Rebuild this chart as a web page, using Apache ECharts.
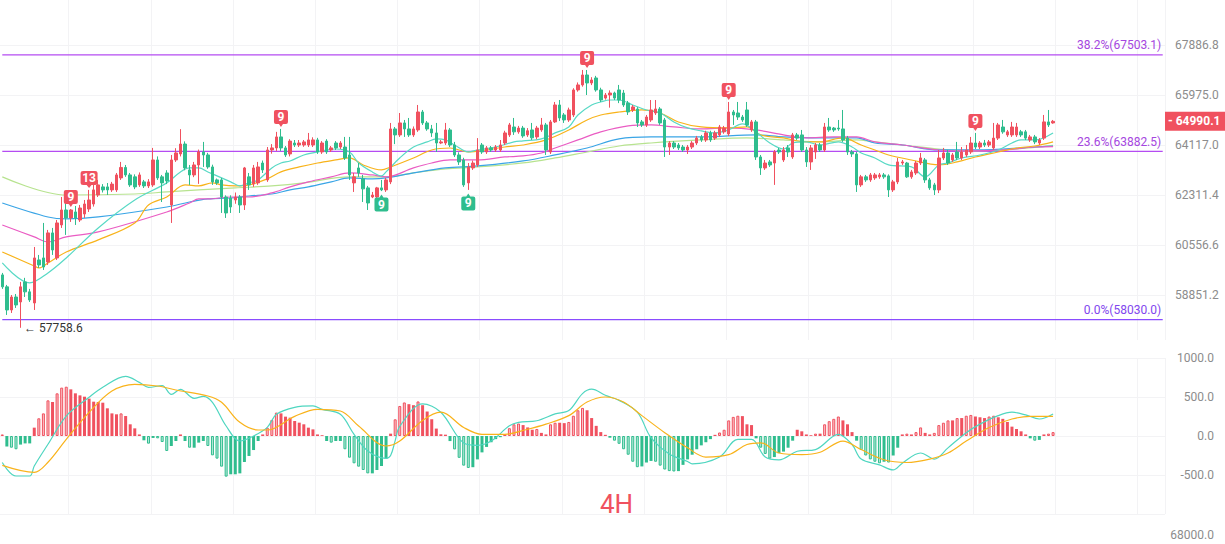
<!DOCTYPE html>
<html>
<head>
<meta charset="utf-8">
<title>4H</title>
<script src="https://cdn.jsdelivr.net/npm/echarts@6/dist/echarts.min.js"></script>
<style>
  html, body { margin: 0; padding: 0; background: #fff; }
  #chart { width: 1225px; height: 544px; }
</style>
</head>
<body>
<div id="chart"></div>
<script>
// 4H candles
const openPrices = [
  59530, 59125, 58350, 58784, 58617, 59293, 58956, 58584, 60041, 60110,
  59972, 60976, 60110, 61254, 61780, 61500, 61710, 61429, 61640, 61815,
  61992, 62311, 62600, 62600, 62493, 62493, 62923, 63300, 63030, 62960,
  62672, 62780, 62636, 62672, 63571, 62960, 63100, 61957, 63571, 63790,
  64153, 63210, 63030, 63390, 63862, 63753, 63318, 62851, 62851, 62240,
  62200, 62134, 62240, 61957, 62960, 62708, 62744, 63460, 62851, 63935,
  64010, 64413, 64010, 63790, 64190, 64117, 64117, 64117, 64117, 64303,
  63862, 64260, 63935, 64190, 64043, 64043, 63753, 62744, 63282, 62887,
  62565, 62240, 62240, 62565, 62493, 62780, 64708, 64487, 64930, 64708,
  64487, 64671, 65338, 64930, 64708, 64560, 64190, 64190, 64671, 64117,
  63753, 63571, 62744, 63282, 63390, 64117, 63862, 64010, 63935, 63935,
  64190, 64487, 64780, 64600, 64740, 64487, 64671, 64413, 64671, 64856,
  63862, 64968, 65600, 65227, 65041, 65227, 66166, 66355, 66734, 66430,
  66620, 66166, 65860, 65975, 66050, 66166, 66050, 65670, 65413, 65450,
  64968, 64856, 65041, 65300, 65450, 65041, 64043, 64190, 64117, 64043,
  63935, 64043, 64190, 64413, 64303, 64560, 64370, 64487, 64600, 64523,
  65338, 65300, 65150, 65413, 64671, 64968, 63680, 63282, 63500, 63460,
  63935, 63571, 64010, 63680, 64487, 64487, 63935, 63500, 63862, 64117,
  63935, 64780, 64740, 64740, 64708, 64370, 63862, 63790, 62672, 62960,
  62851, 62923, 62960, 63030, 62995, 62493, 62780, 63460, 63460, 62960,
  63100, 63460, 63571, 62851, 62672, 62493, 63644, 63826, 63571, 63862,
  63644, 63753, 63862, 64190, 64043, 64190, 64117, 64010, 64370, 64780,
  64487, 64487, 64487, 64600, 64600, 64303, 64413, 64190, 64370, 64968,
  64930
];
const closePrices = [
  59125, 58350, 58784, 58517, 59125, 58956, 58684, 60110, 59870, 59800,
  60976, 60384, 61324, 61780, 61500, 61780, 61500, 61850, 61992, 62134,
  62493, 62672, 62493, 62493, 62700, 63030, 63300, 63030, 62672, 62600,
  63030, 62636, 62780, 63571, 62923, 62744, 62815, 63571, 63826, 64153,
  63282, 63030, 63390, 63862, 63753, 63318, 62780, 62744, 62240, 61675,
  61886, 62240, 61957, 63282, 62672, 63282, 63318, 63210, 63935, 64010,
  64413, 64010, 63753, 64260, 64117, 64190, 64230, 64303, 64303, 63862,
  64190, 63862, 64010, 64010, 64190, 63644, 63030, 62960, 63102, 62530,
  62028, 62311, 62565, 62493, 62851, 64708, 64487, 64930, 64708, 64487,
  64708, 65338, 64930, 64708, 64560, 64190, 64230, 64671, 64117, 63753,
  63500, 62672, 63318, 63460, 63935, 63862, 64010, 63935, 64043, 64117,
  64560, 64856, 64600, 64740, 64450, 64640, 64380, 64740, 64856, 63935,
  64968, 65600, 65115, 65041, 65413, 66166, 66355, 66734, 66430, 66544,
  66166, 65787, 65975, 66050, 65860, 65787, 65600, 65338, 65527, 64930,
  64856, 65150, 65413, 65450, 64930, 64043, 64190, 64043, 64010, 63935,
  64043, 64190, 64370, 64303, 64560, 64303, 64560, 64780, 64740, 65338,
  65227, 65150, 65041, 64856, 64968, 63680, 63282, 63460, 63390, 63862,
  63862, 63935, 63862, 64487, 64370, 63935, 63500, 64010, 64117, 63935,
  64780, 64671, 64671, 64708, 64303, 63862, 63790, 62672, 62960, 62851,
  63030, 63030, 63030, 62960, 62493, 62780, 63500, 63500, 62960, 63137,
  63460, 63644, 62851, 62565, 62493, 63644, 63826, 63460, 63753, 63644,
  63862, 63935, 64190, 64043, 64190, 64117, 64230, 64370, 64856, 64600,
  64600, 64780, 64780, 64487, 64370, 64413, 64230, 64303, 64968, 64856,
  64990.1
];
const highPrices = [
  59598, 59191, 58851, 58885, 59293, 59430, 59057, 60488, 60213, 61324,
  61080, 61150, 61429, 62240, 62028, 61815, 61922, 61957, 62134, 62493,
  62672, 62851, 62700, 62740, 62780, 63100, 63500, 63390, 63100, 63050,
  63120, 62850, 62880, 64010, 63700, 63030, 63200, 63753, 64000, 64700,
  64250, 63390, 63500, 63950, 64230, 63830, 63400, 62900, 62923, 62300,
  62300, 62400, 62311, 63318, 63100, 63390, 63500, 63550, 64043, 64150,
  64600, 64708, 64080, 64330, 64300, 64300, 64300, 64560, 64400, 64380,
  64260, 64330, 64080, 64260, 64260, 64413, 64413, 63100, 63460, 63030,
  62636, 62420, 62600, 62851, 62923, 64930, 64780, 65300, 65041, 65115,
  64800, 65600, 65413, 65000, 64856, 64930, 64300, 64930, 64740, 64230,
  63850, 63650, 63460, 63550, 64370, 64190, 64080, 64080, 64117, 64300,
  64640, 64930, 65115, 64820, 64820, 64740, 64930, 64820, 65115, 64930,
  65041, 65713, 65787, 65300, 65500, 66230, 66450, 66925, 66925, 66650,
  66700, 66250, 66050, 66150, 66100, 66355, 66166, 65750, 65600, 65520,
  65041, 65227, 65787, 65787, 65520, 65115, 64260, 64260, 64190, 64117,
  64117, 64260, 64450, 64487, 64640, 64640, 64640, 64856, 64820, 65713,
  65413, 65713, 65227, 65713, 65041, 65041, 63753, 63571, 63571, 63935,
  64010, 64043, 64117, 64560, 64560, 64671, 64043, 64117, 64190, 64190,
  64930, 65115, 64780, 65041, 65413, 64450, 63935, 63862, 63030, 63030,
  63100, 63100, 63100, 63100, 63050, 62851, 63644, 63571, 63500, 63210,
  63535, 63826, 63644, 62923, 62744, 63935, 64010, 63935, 63826, 64230,
  64043, 64117, 64413, 64560, 64260, 64303, 64300, 64930, 64930, 65041,
  64671, 64968, 64930, 64671, 64671, 64487, 64487, 64370, 65227, 65413,
  65041
];
const lowPrices = [
  59057, 58184, 58250, 58417, 57758.6, 58784, 58617, 58350, 59768, 59700,
  59870, 60213, 60041, 61150, 60906, 61360, 61254, 61360, 61500, 61710,
  61900, 62240, 62400, 62311, 62420, 62420, 62850, 62960, 62600, 62520,
  62600, 62560, 62560, 62600, 62850, 62062, 62700, 61324, 63500, 63700,
  63200, 62672, 62950, 62708, 63318, 63250, 62672, 62672, 61675, 61500,
  61675, 62000, 61675, 61780, 62493, 62600, 62672, 63100, 62780, 63800,
  63900, 63900, 63680, 63700, 64043, 64043, 64050, 64043, 64043, 63790,
  63790, 63790, 63862, 63935, 63970, 63571, 62851, 62420, 62960, 62063,
  61780, 62200, 62200, 62450, 62420, 62700, 64150, 64413, 64413, 64413,
  64413, 64600, 64856, 64640, 64413, 63862, 64150, 64117, 64043, 63680,
  63390, 62600, 62493, 63210, 63318, 63790, 63790, 63862, 63862, 63862,
  64117, 64413, 64487, 64530, 64380, 64413, 64300, 64330, 64600, 63753,
  63790, 64930, 65000, 64930, 64968, 65150, 66100, 66290, 65975, 66350,
  66100, 65713, 65800, 65500, 65787, 65670, 65527, 65227, 65338, 64780,
  64780, 64780, 64968, 65227, 64856, 63680, 63753, 63970, 63935, 63862,
  63790, 63970, 64117, 64230, 64230, 64230, 64300, 64413, 64530, 64450,
  64856, 65041, 64968, 64780, 64600, 63571, 63030, 63210, 63318, 62672,
  63790, 63500, 63680, 63610, 64303, 63862, 63318, 63210, 63610, 63862,
  63862, 64600, 64600, 64640, 64230, 63753, 63680, 62420, 62600, 62780,
  62780, 62851, 62890, 62890, 62240, 62420, 62700, 63390, 62923, 62890,
  63030, 63390, 62744, 62493, 62311, 62380, 63571, 63390, 63500, 63571,
  63571, 63680, 63790, 63970, 63970, 64043, 64043, 63935, 64300, 64530,
  64413, 64413, 64413, 64413, 64300, 64230, 64150, 64117, 64303, 64780,
  64900
];

// moving averages, sampled along the lines: [candle index, price]
const maTeal = [[0,59938],[6,59259],[10,59598],[14,60110],[21,61150],[29,62134],[36,62744],[39,63138],[41,63282],[43,63282],[45,63138],[48,62923],[50,62780],[52,62636],[54,62744],[56,62851],[59,63282],[61,63462],[63,63535],[66,63753],[70,63899],[73,63971],[76,63862],[78,63462],[81,63138],[83,62995],[84,63138],[87,63644],[90,64043],[93,64230],[95,64340],[97,64303],[99,64117],[102,63862],[104,63935],[108,64043],[112,64230],[114,64266],[118,64340],[121,64561],[124,64782],[126,65227],[129,65600],[131,65713],[133,65787],[135,65787],[138,65600],[141,65413],[144,65301],[147,64967],[150,64745],[153,64634],[156,64561],[159,64671],[162,64893],[165,64598],[168,64191],[171,63971],[173,64191],[176,64230],[179,64117],[183,64230],[186,64043],[188,63826],[191,63644],[194,63390],[199,63318],[202,62959],[205,63390],[207,63462],[210,63644],[214,63753],[218,63935],[221,64191],[223,64303],[226,64303],[230,64561]];
const maOrange = [[0,60316],[7,59836],[8,59768],[10,59938],[14,60316],[21,60733],[29,61324],[32,61957],[36,62240],[40,62672],[43,62636],[46,62744],[48,62672],[51,62636],[54,62672],[58,62887],[61,63138],[65,63318],[69,63462],[73,63571],[76,63644],[79,63390],[83,63210],[85,63318],[90,63644],[94,63935],[98,64007],[102,63862],[106,63935],[110,64043],[114,64117],[119,64303],[124,64671],[128,65041],[131,65227],[135,65338],[140,65413],[144,65301],[148,64967],[153,64782],[159,64745],[163,64782],[166,64487],[171,64377],[176,64230],[179,64230],[184,64377],[188,64117],[191,63935],[194,63753],[199,63571],[205,63390],[209,63499],[213,63680],[218,63862],[222,64007],[226,64080],[230,64230]];
const maPink = [[0,61254],[7,60837],[10,60664],[14,60837],[21,61010],[36,61710],[41,62028],[43,62170],[45,62170],[50,62240],[54,62240],[59,62384],[63,62600],[67,62780],[72,62959],[76,63102],[81,63030],[84,62959],[90,63282],[94,63462],[98,63571],[104,63571],[110,63680],[114,63717],[118,63826],[121,64007],[126,64303],[131,64598],[137,64819],[142,64856],[147,64782],[153,64708],[159,64745],[165,64671],[171,64487],[176,64377],[182,64413],[187,64413],[191,64230],[197,64117],[205,63935],[212,63899],[219,63935],[226,64043],[230,64060]];
const maBlue = [[0,62028],[10,61534],[14,61464],[21,61534],[36,61886],[41,62063],[45,62170],[50,62205],[54,62276],[59,62347],[63,62493],[67,62600],[72,62780],[76,62923],[81,62887],[84,62923],[90,63102],[97,63282],[104,63354],[114,63535],[121,63753],[128,64007],[135,64340],[142,64413],[153,64413],[165,64487],[171,64413],[179,64377],[187,64377],[191,64191],[197,64117],[205,63935],[212,63935],[219,63971],[226,64043],[230,64080]];
const maLime = [[0,62959],[14,62311],[29,62347],[36,62420],[43,62493],[51,62565],[59,62636],[66,62744],[76,62959],[84,62959],[90,63102],[97,63246],[104,63318],[114,63462],[121,63644],[128,63862],[135,64080],[142,64191],[153,64303],[163,64377],[171,64303],[179,64230],[187,64303],[191,64230],[197,64117],[205,63971],[212,63899],[219,63935],[226,64030],[230,64100]];

// MACD
const macdHist = [
  20, -136, -150, -170, -110, -95, -95, 107, 227, 290,
  457, 436, 547, 620, 632, 598, 547, 521, 504, 479,
  440, 436, 427, 355, 290, 278, 290, 256, 150, 98,
  20, -55, -98, -25, -30, -77, -192, -128, -64, 20,
  -64, -150, -150, -85, -64, -128, -248, -290, -393, -521,
  -491, -491, -479, -333, -256, -180, -64, 20, 107, 205,
  300, 290, 248, 235, 192, 171, 150, 107, 85, 20,
  10, -64, -85, -64, -64, -170, -278, -350, -393, -436,
  -479, -479, -436, -385, -290, 30, 214, 385, 430, 408,
  395, 443, 395, 314, 215, 95, 22, 17, -65, -172,
  -280, -380, -410, -400, -300, -210, -140, -80, -40, -15,
  20, 100, 150, 160, 140, 110, 80, 90, 40, 20,
  150, 170, 170, 165, 180, 260, 330, 360, 330, 230,
  130, 50, 15, -22, -60, -100, -170, -240, -330, -400,
  -390, -340, -320, -330, -380, -430, -450, -455, -450, -370,
  -300, -240, -170, -120, -80, -40, 15, 45, 80, 200,
  245, 260, 255, 150, 140, -30, -150, -230, -290, -270,
  -220, -200, -150, -60, 80, 60, 20, 10, 30, 30,
  150, 190, 220, 250, 200, 150, 50, -60, -180, -250,
  -300, -330, -350, -330, -340, -250, -150, 20, 30, 20,
  50, 110, 40, 20, 40, 140, 170, 200, 200, 230,
  230, 260, 270, 250, 240, 230, 250, 260, 240, 220,
  180, 120, 90, 60, 20, -30, -60, -50, 20, 30,
  50
];
const macdDif = [[0,-340],[3,-513],[6,-513],[7,-385],[10,-106],[14,256],[19,496],[22,624],[27,765],[30,688],[32,624],[35,645],[37,534],[39,598],[42,483],[44,509],[46,432],[49,128],[52,-64],[55,0],[58,111],[60,278],[64,367],[68,385],[70,342],[74,278],[77,21],[80,-192],[84,-286],[85,-250],[86,-60],[87,124],[92,413],[96,305],[101,-90],[104,-120],[107,-65],[111,130],[113,174],[117,196],[121,283],[124,326],[127,544],[129,600],[132,522],[135,457],[139,305],[142,-22],[146,-230],[150,-326],[151,-357],[157,-270],[161,-43],[164,-43],[167,-270],[170,-305],[174,-196],[178,-174],[183,22],[186,-109],[188,-296],[192,-370],[195,-435],[197,-348],[201,-218],[204,-296],[207,-152],[211,43],[214,152],[218,261],[221,305],[224,270],[227,218],[230,283]];
const macdDea = [[0,-376],[7,-466],[10,-337],[14,-43],[19,303],[24,577],[29,663],[34,641],[38,590],[45,513],[48,432],[52,175],[56,77],[58,77],[64,252],[69,342],[74,321],[78,128],[84,-128],[87,-64],[92,200],[96,305],[101,109],[105,22],[110,22],[115,87],[119,152],[124,261],[128,435],[132,500],[136,435],[140,261],[145,43],[150,-152],[154,-270],[159,-239],[163,-109],[166,-87],[170,-218],[175,-239],[179,-209],[184,-65],[188,-174],[193,-305],[198,-340],[203,-296],[207,-218],[211,-65],[216,109],[221,218],[225,252],[230,252]];

// axis ticks and levels
const priceTicks = [58851.2, 60556.6, 62311.4, 64117.0, 65975.0, 67886.8];
const fibLevels = [67503.1, 63882.5, 58030.0];
const fibNames = ['38.2%', '23.6%', '0.0%'];
const lastPrice = 64990.1;
const lowIndex = 4;

// TD sequential counts
const tdSellIdx = [15, 19, 61, 128, 159, 213];
const tdSellText = ['9', '13', '9', '9', '9', '9'];
const tdBuyIdx = [83, 102];
const tdBuyText = ['9', '9'];

const SLOTS = 255; // room on the right after the last candle
const slots = [];
for (let i = 0; i < SLOTS; i++) slots.push(String(i));
const lastSlot = slots[SLOTS - 1];

const UP = '#f0515f';
const DOWN = '#2fbd8e';
const FIB_COLORS = ['#b54cf2', '#b54cf2', '#8a4cff'];
const FIB_TEXT = ['#a546e0', '#a546e0', '#8146ee'];
const GRID_LINE = '#f3f3f5';
const AXIS_TEXT = '#8c8c8c';

const candles = openPrices.map((o, i) => [o, closePrices[i], lowPrices[i], highPrices[i]]);

const PIN_DOWN = 'path://M2,0H12Q14,0,14,2V12Q14,14,12,14H9L7,17L5,14H2Q0,14,0,12V2Q0,0,2,0Z';
const PIN_UP = 'path://M5,3L7,0L9,3H12Q14,3,14,5V15Q14,17,12,17H2Q0,17,0,15V5Q0,3,2,3Z';

const tdPoints = [];
tdSellIdx.forEach((idx, k) => {
  tdPoints.push({
    coord: [slots[idx], highPrices[idx]],
    symbol: PIN_DOWN,
    symbolSize: [tdSellText[k].length > 1 ? 17 : 14, 17],
    symbolOffset: [0, -10.5],
    itemStyle: { color: UP },
    label: { show: true, position: 'inside', formatter: tdSellText[k], color: '#fff', fontSize: 12, fontWeight: 'bold', offset: [0, -1.5] }
  });
});
tdBuyIdx.forEach((idx, k) => {
  tdPoints.push({
    coord: [slots[idx], lowPrices[idx]],
    symbol: PIN_UP,
    symbolSize: [14, 17],
    symbolOffset: [0, 12],
    itemStyle: { color: DOWN },
    label: { show: true, position: 'inside', formatter: tdBuyText[k], color: '#fff', fontSize: 12, fontWeight: 'bold', offset: [0, 1.5] }
  });
});

// fib level captions sit above the right end of each level line
const fibCaptions = fibLevels.map((v, k) => ({
  coord: [lastSlot, v],
  symbol: 'circle', symbolSize: 1, itemStyle: { color: 'rgba(0,0,0,0)' },
  label: { show: true, position: 'left', distance: 1, offset: [0, -9.5],
    formatter: fibNames[k] + '(' + v.toFixed(1) + ')', color: FIB_TEXT[k], fontSize: 12 }
}));

// histogram: bars growing in size are drawn light with an outline
const histData = macdHist.map((v, i) => {
  const prev = i > 0 ? macdHist[i - 1] : 0;
  const growing = Math.abs(v) > Math.abs(prev) && (v >= 0) === (prev >= 0);
  const base = v >= 0 ? UP : DOWN;
  return {
    value: v,
    itemStyle: growing
      ? { color: v >= 0 ? 'rgba(240,81,95,0.35)' : 'rgba(47,189,142,0.35)', borderColor: base, borderWidth: 1 }
      : { color: base }
  };
});

function maSeries(name, data, color) {
  return {
    name, type: 'line', xAxisIndex: 0, yAxisIndex: 0, data,
    smooth: 0.35, showSymbol: false, silent: true,
    lineStyle: { color, width: 1.2 }, itemStyle: { color }, z: 3
  };
}

// one flat line per fibonacci level, across the whole panel
const fibSeries = fibLevels.map((v, k) => ({
  name: 'fib ' + fibNames[k], type: 'line', xAxisIndex: 0, yAxisIndex: 0,
  data: [[slots[0], v], [lastSlot, v]],
  showSymbol: false, silent: true, z: 2,
  lineStyle: { color: FIB_COLORS[k], width: 1.2 }, itemStyle: { color: FIB_COLORS[k] }
}));

const vSplit = {
  show: true,
  interval: (idx) => idx % 18 === 15,
  lineStyle: { color: GRID_LINE, width: 1 }
};

const chart = echarts.init(document.getElementById('chart'), null, { renderer: 'svg' });

chart.setOption({
  animation: false,
  backgroundColor: '#fff',
  textStyle: { fontFamily: 'Roboto, "Noto Sans", sans-serif' },
  grid: [
    { left: 0, right: 60, top: 0, height: 340 },
    { left: 0, right: 60, top: 358, height: 156 }
  ],
  xAxis: [
    { type: 'category', gridIndex: 0, data: slots, boundaryGap: true,
      axisLine: { show: false }, axisTick: { show: false }, axisLabel: { show: false }, splitLine: vSplit },
    { type: 'category', gridIndex: 1, data: slots, boundaryGap: true,
      axisLine: { show: false }, axisTick: { show: false }, axisLabel: { show: false }, splitLine: vSplit }
  ],
  yAxis: [
    { type: 'log', logBase: 10, gridIndex: 0, position: 'right', min: 57357, max: 69655,
      axisLine: { show: false },
      axisTick: { show: false, customValues: priceTicks },
      axisLabel: { customValues: priceTicks, formatter: (v) => Number(v).toFixed(1),
        color: AXIS_TEXT, fontSize: 12, margin: 10, align: 'left' },
      splitLine: { show: true, lineStyle: { color: GRID_LINE } } },
    { type: 'value', gridIndex: 1, position: 'right', min: -1000, max: 1000, interval: 500,
      axisLine: { show: false }, axisTick: { show: false },
      axisLabel: { formatter: (v) => Number(v).toFixed(1), showMinLabel: false,
        color: AXIS_TEXT, fontSize: 12, margin: 49, align: 'right' },
      splitLine: { show: true, lineStyle: { color: GRID_LINE } } }
  ],
  series: fibSeries.concat([
    {
      name: 'K', type: 'candlestick', xAxisIndex: 0, yAxisIndex: 0, data: candles,
      barWidth: 3, z: 4,
      itemStyle: { color: UP, color0: DOWN, borderColor: UP, borderColor0: DOWN, borderWidth: 1 },
      markLine: {
        silent: true, symbol: ['none', 'none'], animation: false,
        data: [{
          yAxis: lastPrice,
          lineStyle: { color: 'rgba(255,255,255,0)', width: 0 },
          label: { show: true, position: 'end', formatter: '- ' + lastPrice.toFixed(1), distance: 0,
            backgroundColor: UP, color: '#fff', fontSize: 12, fontWeight: 'bold', padding: [4, 5, 3, 3] }
        }]
      },
      markPoint: {
        silent: true, animation: false,
        data: [{
          coord: [slots[lowIndex], lowPrices[lowIndex]],
          symbol: 'circle', symbolSize: 1, itemStyle: { color: 'rgba(0,0,0,0)' },
          label: { show: true, position: 'right', distance: 3, formatter: '\u2190 ' + lowPrices[lowIndex].toFixed(1),
            color: '#333', fontSize: 12 }
        }].concat(tdPoints, fibCaptions)
      }
    },
    maSeries('MA-lime', maLime, '#b7e38f'),
    maSeries('MA-blue', maBlue, '#3aa5e6'),
    maSeries('MA-pink', maPink, '#ea5cc3'),
    maSeries('MA-orange', maOrange, '#f8b31a'),
    maSeries('MA-teal', maTeal, '#58d9c5'),
    {
      name: 'MACD', type: 'bar', xAxisIndex: 1, yAxisIndex: 1, data: histData, barWidth: 3
    },
    {
      name: 'DIF', type: 'line', xAxisIndex: 1, yAxisIndex: 1, data: macdDif, smooth: 0.35,
      showSymbol: false, silent: true, lineStyle: { color: '#4fd6c0', width: 1.2 }, z: 3
    },
    {
      name: 'DEA', type: 'line', xAxisIndex: 1, yAxisIndex: 1, data: macdDea, smooth: 0.35,
      showSymbol: false, silent: true, lineStyle: { color: '#f9b31b', width: 1.2 }, z: 3
    }
  ]),
  graphic: [
    { type: 'text', left: 600, top: 491, silent: true,
      style: { text: '4H', fill: '#f0515f', fontSize: 26, fontFamily: 'Roboto, sans-serif' } },
    { type: 'text', right: 11, top: 529, silent: true,
      style: { text: '68000.0', fill: AXIS_TEXT, fontSize: 12, fontFamily: 'Roboto, sans-serif' } }
  ]
});
</script>
</body>
</html>
